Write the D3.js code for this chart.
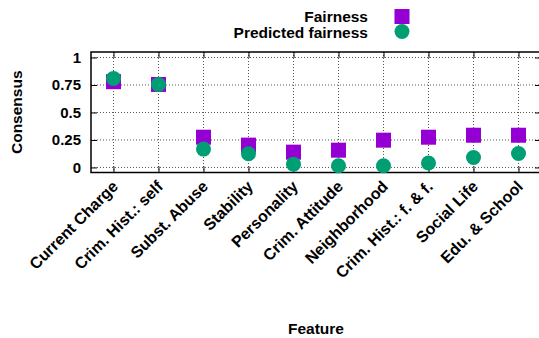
<!DOCTYPE html>
<html><head><meta charset="utf-8">
<script src="https://cdn.jsdelivr.net/npm/d3@7"></script>
<style>body{margin:0;background:#fff;}svg{display:block;font-family:"Liberation Sans",Arial,sans-serif;font-weight:bold;}</style>
</head><body>
<svg id="c" width="539" height="338"></svg>
<script>
const categories = ["Current Charge","Crim. Hist.: self","Subst. Abuse","Stability","Personality","Crim. Attitude","Neighborhood","Crim. Hist.: f. & f.","Social Life","Edu. & School"];
const fairness = [0.78,0.755,0.275,0.203,0.139,0.157,0.248,0.275,0.293,0.293];
const predictedFairness = [0.81,0.755,0.167,0.124,0.03,0.015,0.015,0.04,0.09,0.127];
const yTicks = [0,0.25,0.5,0.75,1];
const yTickLabels = ["0","0.25","0.5","0.75","1"];
const seriesNames = ["Fairness","Predicted fairness"];

const svg = d3.select("#c");
const L=91, R=541, T=52, B=172.5;
const x = d3.scaleLinear().domain([-0.5,9.5]).range([L,R]);
const y = d3.scaleLinear().domain([-0.046,1.05]).range([B,T]);
const purple="#9400D3", green="#009E73";

// grid
const g = svg.append("g");
g.selectAll(".gy").data(yTicks).join("line")
 .attr("x1",L).attr("x2",R).attr("y1",d=>y(d)).attr("y2",d=>y(d))
 .attr("stroke","#555").attr("stroke-width",1).attr("stroke-dasharray","1,2");
g.selectAll(".gx").data(categories).join("line")
 .attr("x1",(d,i)=>x(i)).attr("x2",(d,i)=>x(i)).attr("y1",T).attr("y2",B)
 .attr("stroke","#555").attr("stroke-width",1).attr("stroke-dasharray","1,2");

// axes (ticks inward)
const yAxis = d3.axisLeft(y).tickValues(yTicks).tickFormat((d,i)=>yTickLabels[i]).tickSizeInner(-6).tickSizeOuter(0).tickPadding(10);
const ya = svg.append("g").attr("transform",`translate(${L},0)`).call(yAxis);
ya.select(".domain").remove();
ya.selectAll("line").attr("stroke","#000");
ya.selectAll("text").attr("font-size",15).attr("font-weight","bold").attr("fill","#000").attr("font-family","Liberation Sans, Arial, sans-serif");
const yr = svg.append("g").attr("transform",`translate(${R},0)`).call(d3.axisRight(y).tickValues(yTicks).tickSizeInner(-6).tickSizeOuter(0).tickFormat(""));
yr.select(".domain").remove(); yr.selectAll("line").attr("stroke","#000");

const xAxis = d3.axisBottom(x).tickValues(d3.range(categories.length)).tickFormat(i=>categories[i]).tickSizeInner(-6).tickSizeOuter(0);
const xa = svg.append("g").attr("transform",`translate(0,${B})`).call(xAxis);
xa.select(".domain").remove();
xa.selectAll("line").attr("stroke","#000");
xa.selectAll("text").attr("font-size",16).attr("font-weight","bold").attr("fill","#000")
 .attr("font-family","Liberation Sans, Arial, sans-serif")
 .attr("text-anchor","end").attr("dy",null).attr("y",0)
 .attr("transform","translate(5,15) rotate(-45)");
const xt = svg.append("g").attr("transform",`translate(0,${T})`).call(d3.axisTop(x).tickValues(d3.range(categories.length)).tickSizeInner(-6).tickSizeOuter(0).tickFormat(""));
xt.select(".domain").remove(); xt.selectAll("line").attr("stroke","#000");

// frame
svg.append("rect").attr("x",L).attr("y",T).attr("width",R-L).attr("height",B-T)
 .attr("fill","none").attr("stroke","#000").attr("stroke-width",1.5);

// markers
const s=15;
svg.append("g").selectAll("rect").data(fairness).join("rect")
 .attr("x",(d,i)=>x(i)-s/2).attr("y",d=>y(d)-s/2).attr("width",s).attr("height",s).attr("fill",purple);
svg.append("g").selectAll("circle").data(predictedFairness).join("circle")
 .attr("cx",(d,i)=>x(i)).attr("cy",d=>y(d)).attr("r",7.5).attr("fill",green);

// axis titles
svg.append("text").attr("transform",`translate(22,${(T+B)/2}) rotate(-90)`).attr("text-anchor","middle")
 .attr("font-size",15.5).text("Consensus");
svg.append("text").attr("x",(L+R)/2).attr("y",334).attr("text-anchor","middle").attr("font-size",15.5).text("Feature");

// legend
const lg = svg.append("g");
lg.append("text").attr("x",368).attr("y",21.5).attr("text-anchor","end").attr("font-size",15.5).text(seriesNames[0]);
lg.append("text").attr("x",368).attr("y",37.5).attr("text-anchor","end").attr("font-size",15.5).text(seriesNames[1]);
lg.append("rect").attr("x",402-s/2).attr("y",16.5-s/2).attr("width",s).attr("height",s).attr("fill",purple);
lg.append("circle").attr("cx",402).attr("cy",31.5).attr("r",7.5).attr("fill",green);
</script>
</body></html>
